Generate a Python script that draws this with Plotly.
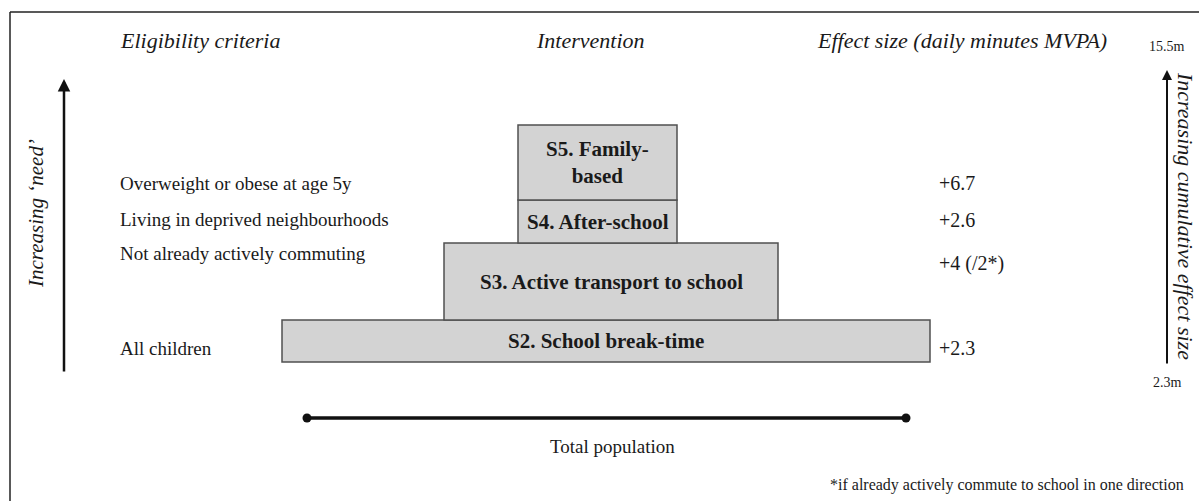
import plotly.graph_objects as go

# ---- data ----
criteria = ["All children", "Not already actively commuting",
            "Living in deprived neighbourhoods", "Overweight or obese at age 5y"]
interventions = ["S2. School break-time", "S3. Active transport to school",
                 "S4. After-school", "S5. Family-<br>based"]
effects = ["+2.3", "+4 (/2*)", "+2.6", "+6.7"]
cumulative_low = "2.3m"
cumulative_high = "15.5m"
headers = ["Eligibility criteria", "Intervention", "Effect size (daily minutes MVPA)"]
footnote = "*if already actively commute to school in one direction"

# ---- layout (pixel-like axis units) ----
box_x0 = [282, 444, 518, 518]
box_x1 = [930, 778, 677, 677]
box_y0 = [320, 243, 200, 125]
box_y1 = [362, 320, 243, 200]
crit_y = [348, 253, 219, 183]
eff_y = [348, 263, 220, 183]

SERIF = "Liberation Serif, Times New Roman, serif"
INK = "#1a1a1a"
fig = go.Figure()

shapes = []
annotations = []
for i in range(len(interventions)):
    shapes.append(dict(type="rect", xref="x", yref="y",
                       x0=box_x0[i], x1=box_x1[i], y0=box_y0[i], y1=box_y1[i],
                       fillcolor="#d3d3d3", line=dict(color="#505050", width=1.5),
                       layer="below"))
    annotations.append(dict(x=(box_x0[i] + box_x1[i]) / 2, y=(box_y0[i] + box_y1[i]) / 2,
                            text="<b>" + interventions[i] + "</b>", showarrow=False,
                            font=dict(family=SERIF, size=21, color=INK)))
    annotations.append(dict(x=118, y=crit_y[i], text=criteria[i], showarrow=False,
                            xanchor="left", font=dict(family=SERIF, size=19, color=INK)))
    annotations.append(dict(x=937, y=eff_y[i], text=effects[i], showarrow=False,
                            xanchor="left", font=dict(family=SERIF, size=20, color=INK)))

# frame
shapes.append(dict(type="line", xref="x", yref="y", x0=10, x1=10, y0=12, y1=505,
                   line=dict(color="#222", width=1.5)))
shapes.append(dict(type="line", xref="x", yref="y", x0=10, x1=1205, y0=12, y1=12,
                   line=dict(color="#222", width=1.5)))

# headers
for hx, ht in zip([200, 590, 962], headers):
    annotations.append(dict(x=hx, y=40, text="<i>" + ht + "</i>", showarrow=False,
                            font=dict(family=SERIF, size=22, color=INK)))

# population line
fig.add_trace(go.Scatter(x=[307, 906], y=[418, 418], mode="lines+markers",
                         line=dict(color="#111", width=3.5),
                         marker=dict(size=9, color="#111"), hoverinfo="skip",
                         showlegend=False))
annotations.append(dict(x=612, y=446, text="Total population", showarrow=False,
                        font=dict(family=SERIF, size=19, color=INK)))

# left arrow
annotations.append(dict(x=64, y=79, ax=64, ay=373, xref="x", yref="y", axref="x", ayref="y",
                        showarrow=True, arrowhead=2, arrowsize=1, arrowwidth=2.5,
                        arrowcolor="#111", text=""))
annotations.append(dict(x=36, y=214, text="<i>Increasing \u2018need\u2019</i>", showarrow=False,
                        textangle=-90, font=dict(family=SERIF, size=21, color=INK)))

# right arrow
annotations.append(dict(x=1167, y=70, ax=1167, ay=365, xref="x", yref="y", axref="x", ayref="y",
                        showarrow=True, arrowhead=2, arrowsize=1, arrowwidth=2,
                        arrowcolor="#111", text=""))
annotations.append(dict(x=1167, y=46, text=cumulative_high, showarrow=False,
                        font=dict(family=SERIF, size=14, color=INK)))
annotations.append(dict(x=1167, y=382, text=cumulative_low, showarrow=False,
                        font=dict(family=SERIF, size=14, color=INK)))
annotations.append(dict(x=1186, y=216, text="<i>Increasing cumulative effect size</i>",
                        showarrow=False, textangle=90,
                        font=dict(family=SERIF, size=22, color=INK)))

# footnote
annotations.append(dict(x=1007, y=485, text=footnote, showarrow=False,
                        font=dict(family=SERIF, size=16, color=INK)))

fig.update_layout(
    width=1199, height=501,
    margin=dict(l=0, r=0, t=0, b=0),
    paper_bgcolor="white", plot_bgcolor="white",
    xaxis=dict(range=[0, 1199], visible=False, fixedrange=True),
    yaxis=dict(range=[501, 0], visible=False, fixedrange=True),
    shapes=shapes, annotations=annotations, showlegend=False,
)
fig.write_html("out.html", config={"displayModeBar": False},
               post_script="document.body.style.margin='0';document.body.style.overflow='hidden';")
